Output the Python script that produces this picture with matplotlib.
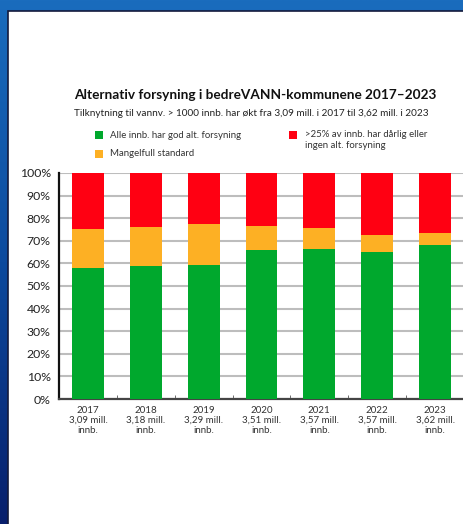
import matplotlib
matplotlib.use('Agg')
import matplotlib.pyplot as plt
import numpy as np
from matplotlib.patches import Rectangle
from matplotlib.colors import LinearSegmentedColormap

plt.rcParams['font.family'] = ['Lato', 'DejaVu Sans']

# data (percent of municipalities)
years = ['2017', '2018', '2019', '2020', '2021', '2022', '2023']
population = ['3,09', '3,18', '3,29', '3,51', '3,57', '3,57', '3,62']
god = [58, 59, 59.5, 66, 66.5, 65, 68]
mangelfull = [17, 17, 18, 10.5, 9, 7.5, 5.5]
daarlig = [100 - g - m for g, m in zip(god, mangelfull)]

labels = ['Alle innb. har god alt. forsyning', 'Mangelfull standard',
          '>25% av innb. har dårlig eller\ningen alt. forsyning']
colors = ['#00a82d', '#fdb024', '#ff0012']

W, H = 464, 524
fig = plt.figure(figsize=(W / 100, H / 100), dpi=100)

# blue background frame
bg = fig.add_axes([0, 0, 1, 1], zorder=-10)
cmap = LinearSegmentedColormap.from_list('bl', ['#1a6cbd', '#0d4a9e', '#081f6c'])
grad = np.linspace(0, 1, 256).reshape(-1, 1)
bg.imshow(grad, aspect='auto', cmap=cmap, extent=[0, 1, 0, 1])
bg.axis('off')
# white panel
fig.patches.append(Rectangle((8 / W, -0.01), 1, 1 - 11 / H + 0.01, transform=fig.transFigure,
                             facecolor='white', edgecolor='#141a3c', linewidth=1.2, zorder=-5))

ax = fig.add_axes([59 / W, 1 - 399 / H, (464 - 59) / W, 226 / H])
x = np.arange(len(years))
bw = 0.55
ax.bar(x, god, bw, color=colors[0], zorder=3)
ax.bar(x, mangelfull, bw, bottom=god, color=colors[1], zorder=3)
ax.bar(x, daarlig, bw, bottom=[g + m for g, m in zip(god, mangelfull)], color=colors[2], zorder=3)

ax.set_xlim(-0.5, len(years) - 0.5)
ax.set_ylim(0, 100)
ax.set_yticks(range(0, 101, 10))
ax.set_yticklabels([str(v) + '%' for v in range(0, 101, 10)], fontsize=8.8, color='#222222')
ax.yaxis.grid(True, color='#bdbdbd', linewidth=1.5, zorder=0)
ax.tick_params(axis='y', length=0, pad=6)

ax.set_xticks(x)
ax.set_xticklabels([y + '\n' + p + ' mill.\ninnb.' for y, p in zip(years, population)],
                   fontsize=7, color='#333333', linespacing=1.15)
ax.tick_params(axis='x', which='major', length=0, pad=5)
ax.set_xticks(np.arange(0.5, len(years) - 0.5, 1), minor=True)
ax.tick_params(axis='x', which='minor', direction='in', length=3, color='#555555')

for s in ['top', 'right']:
    ax.spines[s].set_visible(False)
ax.spines['left'].set_linewidth(1.6)
ax.spines['left'].set_color('#111111')
ax.spines['bottom'].set_linewidth(1.6)
ax.spines['bottom'].set_color('#444444')

# title and subtitle
fig.text(74 / W, 1 - 95 / H, 'Alternativ forsyning i bedreVANN-kommunene 2017–2023',
         fontsize=9.8, fontweight='bold', color='#111111', va='center', ha='left')
fig.text(74 / W, 1 - 114 / H,
         'Tilknytning til vannv. > 1000 innb. har økt fra 3,09 mill. i 2017 til 3,62 mill. i 2023',
         fontsize=7.2, color='#222222', va='center', ha='left')

# legend
leg_pos = [(95, 131, 110, 135), (95, 150, 110, 154), (289, 131, 305, 135)]
for (sx, sy, tx, ty), lab, c in zip(leg_pos, labels, colors):
    fig.patches.append(Rectangle((sx / W, 1 - (sy + 8) / H), 8 / W, 8 / H,
                                 transform=fig.transFigure, facecolor=c, edgecolor='none'))
    fig.text(tx / W, 1 - ty / H + (5 / H if '\n' in lab else 0), lab, fontsize=6.9, color='#333333',
             va='top' if '\n' in lab else 'center', ha='left', linespacing=1.25)

fig.savefig('out.png', dpi=100)
